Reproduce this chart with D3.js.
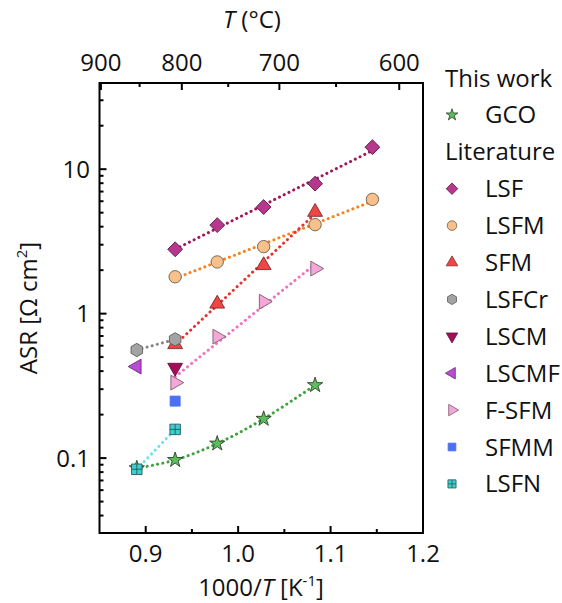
<!DOCTYPE html>
<html><head><meta charset="utf-8">
<script src="https://cdn.jsdelivr.net/npm/d3@7"></script>
<style>
html,body{margin:0;padding:0;background:#fff;}
text{font-family:"Open Sans",sans-serif;fill:#111;}
</style></head>
<body>
<svg id="c" width="562" height="603"></svg>
<script>
// ---------------- data ----------------
const tempsC = [850, 800, 750, 700, 650, 600];
const GCO   = [0.085, 0.097, 0.126, 0.187, 0.32, null];
const LSF   = [null, 2.79, 4.10, 5.47, 7.94, 14.2];
const LSFM  = [null, 1.80, 2.28, 2.91, 4.13, 6.18];
const SFM   = [null, 0.613, 1.17, 2.16, 5.05, null];
const LSFCr = [0.56, 0.664, null, null, null, null];
const LSCM  = [null, 0.423, null, null, null, null];
const LSCMF = [0.43, null, null, null, null, null];
const FSFM  = [null, 0.333, 0.693, 1.21, 2.05, null];
const SFMM  = [null, 0.248, null, null, null, null];
const LSFN  = [0.0837, 0.158, null, null, null, null];

const xTicks = [0.9, 1.0, 1.1, 1.2];
const xMinorTicks = [0.95, 1.05, 1.15];
const topTicksC = [900, 800, 700, 600];
const topMinorC = [850, 750, 650];
const yTicks = [0.1, 1, 10];
const yTickLabels = ["0.1", "1", "10"];

// ---------------- setup ----------------
const svg = d3.select("#c");
const L = 99.5, R = 423, T = 83, B = 533;
const x = d3.scaleLinear().domain([0.85, 1.2]).range([L, R]);
const xTop = d3.scaleLinear().domain([0.851, 1.1686]).range([L, R]);
const y = d3.scaleLog().domain([0.0303, 39.5]).range([B, T]);
const inv = t => 1000 / (t + 273.15);

// custom symbols
const symHex = {draw(ctx, size){ const r = Math.sqrt(size/(1.5*Math.sqrt(3)));
  for(let i=0;i<6;i++){const a=-Math.PI/2+i*Math.PI/3; const px=r*Math.cos(a), py=r*Math.sin(a); i?ctx.lineTo(px,py):ctx.moveTo(px,py);} ctx.closePath();}};
const symGrid = {draw(ctx, size){ const s=Math.sqrt(size)/2;
  ctx.moveTo(-s,-s);ctx.lineTo(s,-s);ctx.lineTo(s,s);ctx.lineTo(-s,s);ctx.closePath();
  ctx.moveTo(-s,0);ctx.lineTo(s,0);ctx.moveTo(0,-s);ctx.lineTo(0,s);}};

const series = [
 {name:"GCO",   data:GCO,   sym:d3.symbolStar,     rot:0,   size:72,  fill:"#5cbf5c", stroke:"#2f3f2f", line:"#3da33d", fit:"curve"},
 {name:"LSF",   data:LSF,   sym:d3.symbolSquare,   rot:45,  size:110, fill:"#b8378e", stroke:"#5a2048", line:"#a3165e", fit:"lin"},
 {name:"LSFM",  data:LSFM,  sym:d3.symbolCircle,   rot:0,   size:120, fill:"#f8c18c", stroke:"#6b5a4a", line:"#f5831f", fit:"lin"},
 {name:"SFM",   data:SFM,   sym:d3.symbolTriangle, rot:0,   size:95,  fill:"#f04545", stroke:"#7a2a2a", line:"#ec3030", fit:"lin"},
 {name:"LSFCr", data:LSFCr, sym:symHex,            rot:0,   size:115, fill:"#a3a3a3", stroke:"#5a5a5a", line:"#858585", fit:"lin"},
 {name:"LSCM",  data:LSCM,  sym:d3.symbolTriangle, rot:180, size:95,  fill:"#a20f58", stroke:"#6a1040", line:null},
 {name:"LSCMF", data:LSCMF, sym:d3.symbolTriangle, rot:-90, size:95,  fill:"#b94cd2", stroke:"#6a2a7a", line:null},
 {name:"F-SFM", data:FSFM,  sym:d3.symbolTriangle, rot:90,  size:95,  fill:"#f5a8d8", stroke:"#7a5a6a", line:"#f073c0", fit:"lin"},
 {name:"SFMM",  data:SFMM,  sym:d3.symbolSquare,   rot:0,   size:100, fill:"#4d6ff2", stroke:"#4d6ff2", line:null},
 {name:"LSFN",  data:LSFN,  sym:symGrid,           rot:0,   size:110, fill:"#3ccfd0", stroke:"#2a5a5a", line:"#6ee0ee", fit:"lin"}
];
series.forEach(s => { s.pts = tempsC.map((t,i)=>({x:inv(t), v:s.data[i]})).filter(p=>p.v!=null); });

// ---------------- lines ----------------
const gLines = svg.append("g");
series.filter(s=>s.line).forEach(s=>{
  if (s.fit === "curve") {
    gLines.append("path").attr("d", d3.line().x(p=>x(p.x)).y(p=>y(p.v)).curve(d3.curveCatmullRom)(s.pts))
      .attr("fill","none").attr("stroke",s.line).attr("stroke-width",3)
      .attr("stroke-dasharray","0.1 5.2").attr("stroke-linecap","round");
    return;
  }
  const xs = s.pts.map(p=>p.x), ls = s.pts.map(p=>Math.log10(p.v));
  const mx = d3.mean(xs), my = d3.mean(ls);
  const slope = d3.sum(xs.map((xi,i)=>(xi-mx)*(ls[i]-my))) / d3.sum(xs.map(xi=>(xi-mx)**2));
  const ends = d3.extent(xs).map(xi=>({x:xi, v:Math.pow(10, my + slope*(xi-mx))}));
  gLines.append("path").attr("d", d3.line().x(p=>x(p.x)).y(p=>y(p.v))(ends))
    .attr("fill","none").attr("stroke",s.line).attr("stroke-width",3)
    .attr("stroke-dasharray","0.1 5.2").attr("stroke-linecap","round");
});

// ---------------- markers ----------------
const gM = svg.append("g");
series.forEach(s=>{
  gM.selectAll(null).data(s.pts).join("path")
    .attr("d", d3.symbol().type(s.sym).size(s.size)())
    .attr("transform", p=>`translate(${x(p.x)},${y(p.v)}) rotate(${s.rot})`)
    .attr("fill", s.fill).attr("stroke", s.stroke).attr("stroke-width", 0.9)
    .attr("stroke-linejoin","round");
});

// ---------------- frame & axes ----------------
svg.append("rect").attr("x",L).attr("y",T).attr("width",R-L).attr("height",B-T)
  .attr("fill","none").attr("stroke","#000").attr("stroke-width",2);

const gAx = svg.append("g").attr("stroke","#000").attr("stroke-width",2);
// bottom
xTicks.forEach(v=>gAx.append("line").attr("x1",x(v)).attr("x2",x(v)).attr("y1",B).attr("y2",B-7));
xMinorTicks.forEach(v=>gAx.append("line").attr("x1",x(v)).attr("x2",x(v)).attr("y1",B).attr("y2",B-4));
svg.append("g").selectAll("text").data(xTicks).join("text")
  .attr("x",d=>x(d)).attr("y",562).attr("text-anchor","middle").attr("font-size",24)
  .text(d=>d3.format(".1f")(d));
// top
topTicksC.forEach(t=>gAx.append("line").attr("x1",xTop(inv(t))).attr("x2",xTop(inv(t))).attr("y1",T).attr("y2",T+7));
topMinorC.forEach(t=>gAx.append("line").attr("x1",xTop(inv(t))).attr("x2",xTop(inv(t))).attr("y1",T).attr("y2",T+4));
svg.append("g").selectAll("text").data(topTicksC).join("text")
  .attr("x",d=>xTop(inv(d))).attr("y",71).attr("text-anchor","middle").attr("font-size",24)
  .text(d=>d);
// left
const yMinor = [];
[0.01,0.1,1,10].forEach(dec=>{ for(let k=2;k<=9;k++){ const v=dec*k; if(v>=0.0303 && v<=39.5) yMinor.push(v);} });
yTicks.forEach(v=>gAx.append("line").attr("x1",L).attr("x2",L+7).attr("y1",y(v)).attr("y2",y(v)));
yMinor.forEach(v=>gAx.append("line").attr("x1",L).attr("x2",L+4).attr("y1",y(v)).attr("y2",y(v)));
svg.append("g").selectAll("text").data(yTicks).join("text")
  .attr("x",90).attr("y",d=>y(d)+8.5).attr("text-anchor","end").attr("font-size",24)
  .text((d,i)=>yTickLabels[i]);

// titles
const xt = svg.append("text").attr("x",261).attr("y",595.5).attr("text-anchor","middle").attr("font-size",24);
xt.append("tspan").text("1000/");
xt.append("tspan").attr("font-style","italic").text("T");
xt.append("tspan").text(" [K");
xt.append("tspan").attr("font-size",15).attr("dy",-10).text("-1");
xt.append("tspan").attr("dy",10).text("]");

const tt = svg.append("text").attr("x",252).attr("y",28).attr("text-anchor","middle").attr("font-size",24);
tt.append("tspan").attr("font-style","italic").text("T");
tt.append("tspan").text(" (°C)");

const yt = svg.append("text").attr("transform","translate(37,308) rotate(-90)").attr("text-anchor","middle").attr("font-size",24);
yt.append("tspan").text("ASR [Ω cm");
yt.append("tspan").attr("font-size",15).attr("dy",-10).text("2");
yt.append("tspan").attr("dy",10).text("]");

// ---------------- legend ----------------
const legY0 = 78, legStep = 36.9;
const legRows = [{head:"This work"}, {s:series[0]}, {head:"Literature"}].concat(series.slice(1).map(s=>({s})));
const gL = svg.append("g");
legRows.forEach((r,i)=>{
  const cy = legY0 + i*legStep;
  if (r.head) {
    gL.append("text").attr("x",445).attr("y",cy+8.5).attr("font-size",24).text(r.head);
  } else {
    const s = r.s;
    gL.append("path").attr("d", d3.symbol().type(s.sym).size(s.size*0.6)())
      .attr("transform",`translate(452,${cy}) rotate(${s.rot})`)
      .attr("fill",s.fill).attr("stroke",s.stroke).attr("stroke-width",0.8);
    gL.append("text").attr("x",485).attr("y",cy+8.5).attr("font-size",24).text(s.name);
  }
});
</script>
</body></html>
